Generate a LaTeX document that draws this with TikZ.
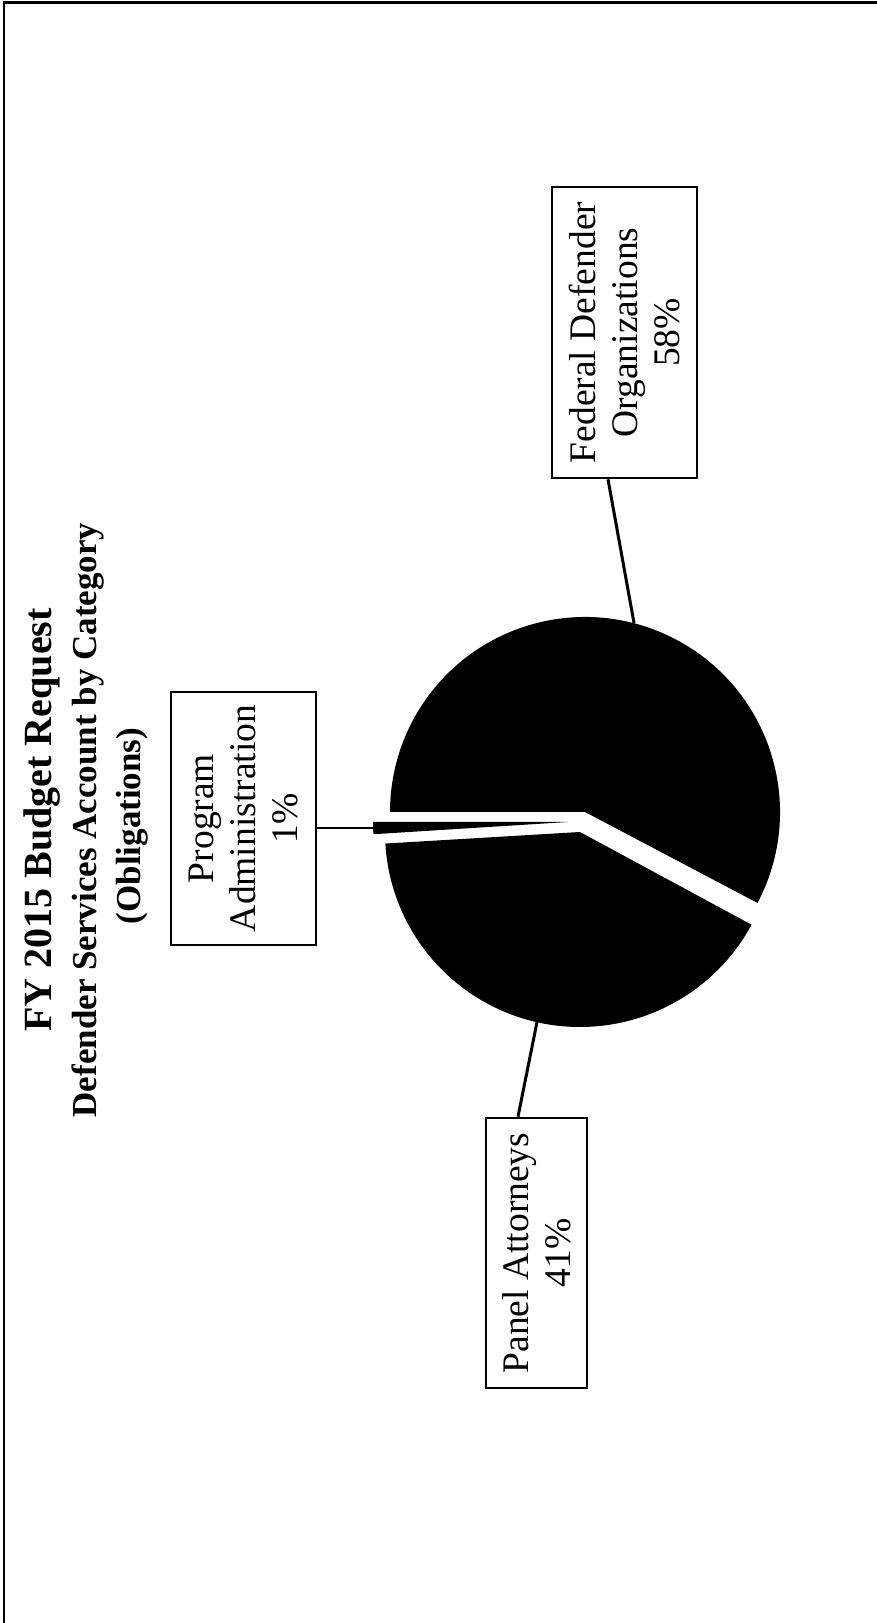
\documentclass[tikz,border=0pt]{standalone}
\usepackage{fontspec}
\setmainfont{Liberation Serif}

\begin{document}
\begin{tikzpicture}[x=1pt, y=1pt,
    catbox/.style={draw, line width=2.6pt, rotate=90, align=center, inner sep=0pt,
        font=\fontsize{37.5}{42}\selectfont},
    heading/.style={rotate=90, font=\bfseries\fontsize{#1}{#1}\selectfont},
    leader/.style={line width=3pt}]
    \useasboundingbox (0,0) rectangle (877,1623);
    \draw[line width=2.5pt] (4,0) -- (4,1620.5) -- (877,1620.5);
    % Titles
    \node[heading=40](title)    at (42,803)  {FY 2015 Budget Request};
    \node[heading=35](subtitle) at (88,803)  {Defender Services Account by Category};
    \node[heading=35](obl)      at (132,797) {(Obligations)};
    % Slices
    \coordinate (fedc)   at (585,811);
    \coordinate (panelc) at (580,791);
    \coordinate (progc)  at (568,801);
    \fill (fedc) -- ++(-27.8:195) arc[start angle=-27.8, end angle=180, radius=195] -- cycle;
    \fill (panelc) -- ++(183.4:195) arc[start angle=183.4, end angle=331.6, radius=195] -- cycle;
    \fill (progc) -- ++(180:195) arc[start angle=180, end angle=183.6, radius=195] -- cycle;
    \coordinate (fedo)   at (634,1000);
    \coordinate (panelo) at (537,601);
    \coordinate (progo)  at (373,795);
    % Labels
    \node[catbox, minimum width=291, minimum height=145](fed)   at (624.5,1290.5) {Federal Defender\\Organizations\\58\%};
    \node[catbox, minimum width=253, minimum height=145](prog)  at (243.5,804.5)  {Program\\Administration\\1\%};
    \node[catbox, minimum width=270, minimum height=101](panel) at (536.5,370)    {Panel Attorneys\\41\%};
    % Leaders
    \path
        (fedo)
            edge [leader] ([xshift=-16.5pt]fed.west)
        (panelo)
            edge [leader] ([xshift=-18.5pt]panel.east)
        (progo)
            edge [line width=2pt] (prog.south |- progo)
        ;
\end{tikzpicture}
\end{document}
